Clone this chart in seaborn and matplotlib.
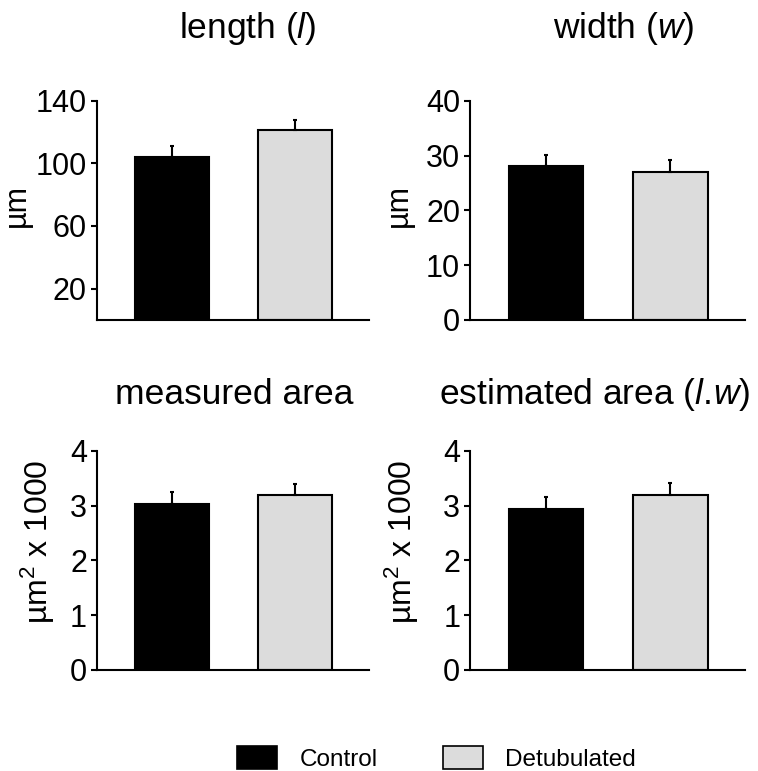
import pandas as pd
import matplotlib.pyplot as plt
import seaborn as sns
from matplotlib.patches import Patch

## values
groups = ["Control", "Detubulated"]
colors = ["#000000", "#dcdcdc"]

length_mean = [104.2, 121.3]
length_err = [7.0, 6.1]
width_mean = [28.1, 27.0]
width_err = [1.95, 2.1]
measured_mean = [3.03, 3.19]
measured_err = [0.22, 0.20]
estimated_mean = [2.94, 3.19]
estimated_err = [0.22, 0.23]

titles = ["length $\\mathit{(l)}$", "width $\\mathit{(w)}$",
          "measured area", "estimated area $\\mathit{(l.\\!w)}$"]
ylabels = ["\u00b5m", "\u00b5m", "\u00b5m$^{2}$ x 1000", "\u00b5m$^{2}$ x 1000"]
yticks = [[20, 60, 100, 140], [0, 10, 20, 30, 40], [0, 1, 2, 3, 4], [0, 1, 2, 3, 4]]
ylims = [(0, 140), (0, 40), (0, 4), (0, 4)]

sns.set_style("white")
plt.rcParams["font.family"] = ["Liberation Sans", "DejaVu Sans"]
plt.rcParams["text.color"] = "black"
plt.rcParams["axes.labelcolor"] = "black"
plt.rcParams["mathtext.fontset"] = "custom"
plt.rcParams["mathtext.rm"] = "Liberation Sans"
plt.rcParams["mathtext.it"] = "Liberation Sans:italic"

fig = plt.figure(figsize=(7.58, 7.71), dpi=100)
boxes = [[0.1276, 0.585, 0.359, 0.2844], [0.620, 0.585, 0.363, 0.2844],
         [0.1276, 0.131, 0.359, 0.2844], [0.620, 0.131, 0.363, 0.2844]]
title_x = [0.556, 0.56, 0.504, 0.455]
title_pad = [45, 45, 34, 34]
label_pad = [3, 9, 9, 16]
label_y = [0.52, 0.52, 0.584, 0.584]
label_size = [22, 22, 23, 23]

means = [length_mean, width_mean, measured_mean, estimated_mean]
errs = [length_err, width_err, measured_err, estimated_err]

for i in range(4):
    ax = fig.add_axes(boxes[i])
    df = pd.DataFrame({"group": groups, "value": means[i], "err": errs[i]})
    sns.barplot(data=df, x="group", y="value", hue="group", palette=colors,
                legend=False, width=0.6, edgecolor="black", linewidth=1.5, ax=ax)
    ## one-sided error bars (upwards only)
    ax.errorbar(range(len(groups)), df["value"], yerr=[[0, 0], df["err"]],
                fmt="none", ecolor="black", elinewidth=1.5, capsize=1.5, capthick=1.5)
    ax.set_xlim(-0.61, 1.6)
    ax.set_ylim(*ylims[i])
    ax.set_yticks(yticks[i])
    ax.set_xticks([])
    ax.set_xlabel("")
    ax.set_ylabel(ylabels[i], fontsize=label_size[i], labelpad=label_pad[i])
    ax.yaxis.label.set_y(label_y[i])
    ax.tick_params(axis="y", labelsize=22, direction="out", length=4, width=1.5,
                   left=True, pad=3, colors="black")
    for s in ["top", "right"]:
        ax.spines[s].set_visible(False)
    for s in ["left", "bottom"]:
        ax.spines[s].set_color("black")
        ax.spines[s].set_linewidth(1.5)
    ax.set_title(titles[i], fontsize=25.5, x=title_x[i], pad=title_pad[i])

handles = [Patch(facecolor=c, edgecolor="black", linewidth=1.2) for c in colors]
fig.legend(handles, groups, loc="lower center", bbox_to_anchor=(0.576, -0.028),
           ncol=2, frameon=False, fontsize=17.5, handlelength=1.65, handleheight=1.1,
           columnspacing=2.7, handletextpad=0.9)

plt.savefig("out.png", dpi=100)
